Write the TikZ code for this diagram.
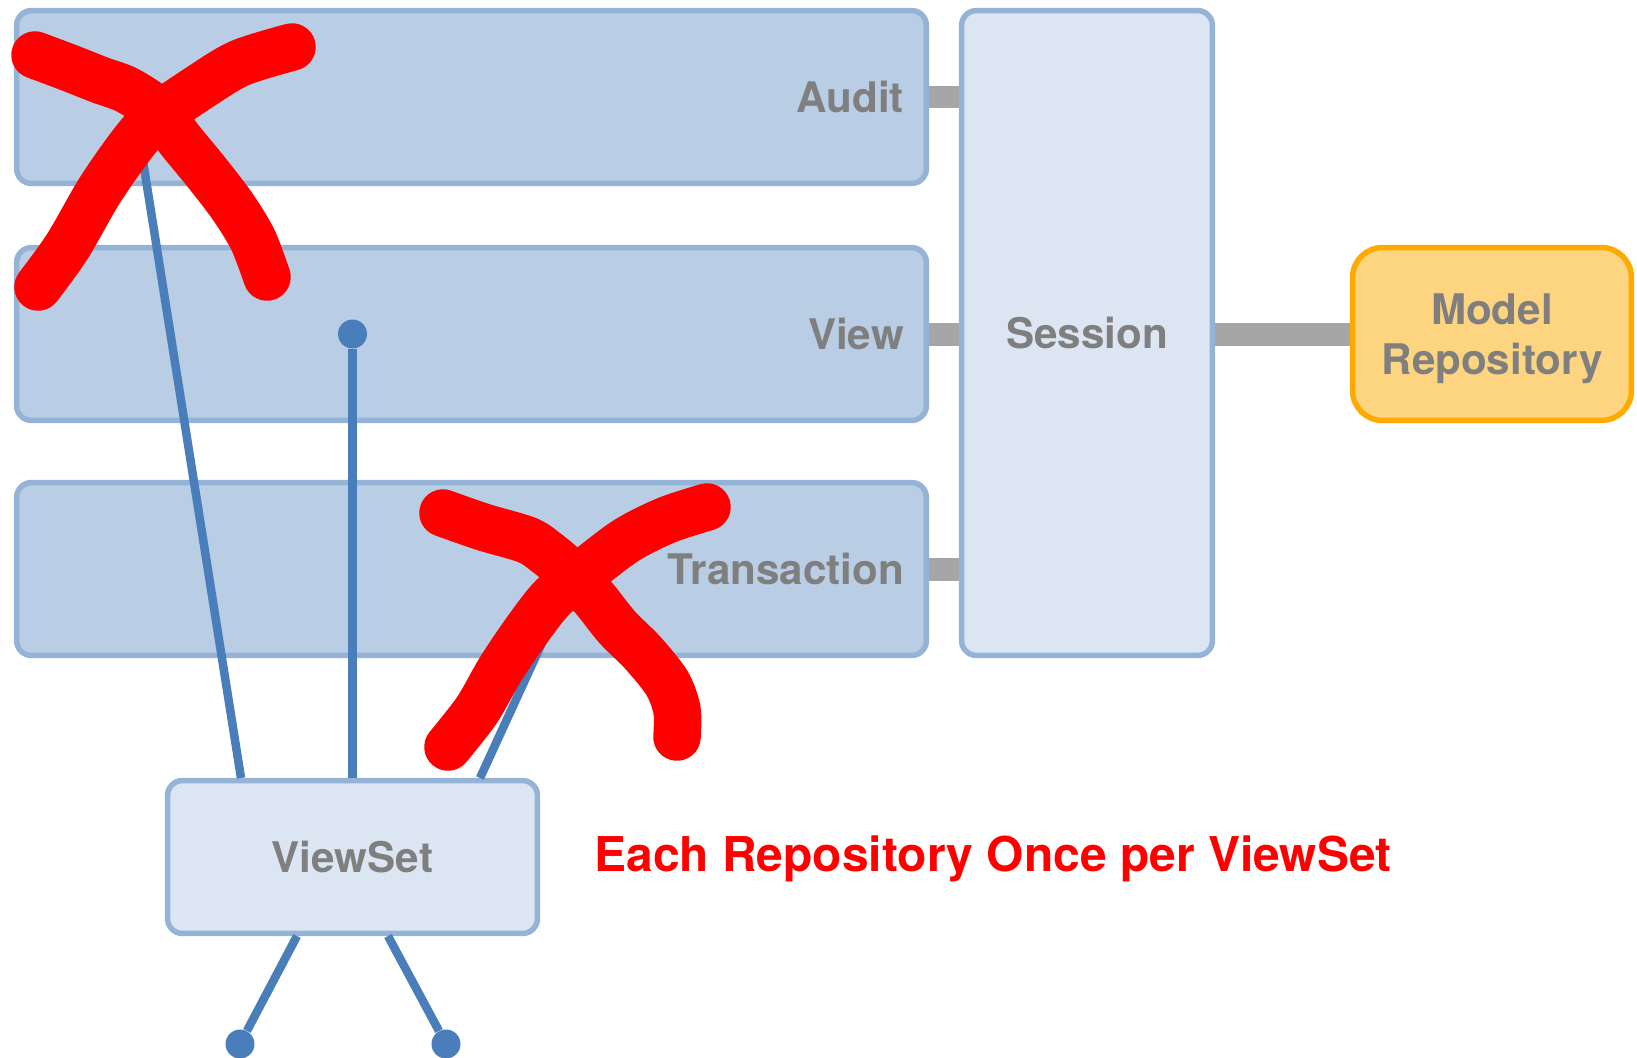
\documentclass[tikz,border=0pt]{standalone}
\usepackage{fontspec}
\setmainfont{TeX Gyre Heros}
\usepackage{xcolor}
\usetikzlibrary{backgrounds}
\definecolor{layerfill}{HTML}{B9CDE5}
\definecolor{panefill}{HTML}{DCE6F2}
\definecolor{edgeblue}{HTML}{95B3D7}
\definecolor{wireblue}{HTML}{4A7EBB}
\definecolor{repofill}{HTML}{FDD581}
\definecolor{repoedge}{HTML}{FFAA00}
\definecolor{linkgray}{HTML}{A6A6A6}
\definecolor{labelgray}{HTML}{7F7F7F}

\begin{document}
\begin{tikzpicture}[x=.02cm,y=-.02cm,
		every node/.style={font=\fontsize{24}{28.5}\selectfont\bfseries,text=labelgray},
		layer/.style={draw=edgeblue,fill=layerfill,line width=.11cm,rounded corners=.3cm,
			text width=17.3cm,inner xsep=.45cm,minimum height=3.46cm,align=right},
		pane/.style={draw=edgeblue,fill=panefill,line width=.11cm,rounded corners=.3cm},
		repo/.style={draw=repoedge,fill=repofill,line width=.11cm,rounded corners=.6cm,
			minimum width=5.58cm,minimum height=3.46cm,align=center,text depth=0pt},
		link/.style={draw=linkgray,line width=.46cm},
		wire/.style={draw=wireblue,line width=.17cm},
		dot/.style={circle,fill=wireblue,inner sep=0,minimum size=.58cm},
		scribble/.style={draw=red,line width=.95cm,line cap=round,line join=round},
	]
		\useasboundingbox (0,0) rectangle (1637,1058);
		\node[layer] (audit) at (471.5,97) {Audit};
		\node[layer] (view) at (471.5,334) {View};
		\node[layer] (transaction) at (471.5,569) {Transaction};
		\node[pane,minimum width=5.02cm,minimum height=12.9cm] (session) at (1087,333) {Session};
		\node[repo] (model) at (1492,334) {Model\\Repository};
		\node[pane,minimum width=7.4cm,minimum height=3.06cm] (viewset) at (352.5,857) {ViewSet};
		\node[text=red,font=\fontsize{27.3}{32}\selectfont\bfseries] (note) at (993,859) {Each Repository Once per ViewSet};
		\begin{pgfonlayer}{background}
			\draw[link] (audit.east) -- (audit.east -| session.west);
			\draw[link] (view.east) -- (view.east -| session.west);
			\draw[link] (transaction.east) -- (transaction.east -| session.west);
			\draw[link] (session.east |- model.west) -- (model.west);
		\end{pgfonlayer}
		\node[dot] (auditdot) at (133,98) {};
		\node[dot] (viewdot) at (352.5,334) {};
		\node[dot] (transactiondot) at (576,569) {};
		\node[dot] (leftdot) at (240,1044) {};
		\node[dot] (rightdot) at (446,1044) {};
		\coordinate (vs1) at (241,778);
		\coordinate (vs3) at (480,778);
		\coordinate (vsl) at (297,936);
		\coordinate (vsr) at (388,936);
		\draw[wire] (auditdot) -- (vs1);
		\draw[wire] (viewdot) -- (viewdot |- viewset.north);
		\draw[wire] (transactiondot) -- (vs3);
		\draw[wire] (vsl) -- (leftdot);
		\draw[wire] (vsr) -- (rightdot);
		\draw[scribble] plot[smooth] coordinates {(35,55) (67,67) (100,80) (127,90) (157,110) (180,140) (207,173) (233,207) (253,240) (267,277)};
		\draw[scribble] plot[smooth] coordinates {(38,287) (67,247) (100,190) (133,143) (157,117) (200,87) (240,63) (292,47)};
		\draw[scribble] plot[smooth] coordinates {(443,513) (483,527) (527,540) (547,553) (567,570) (593,597) (617,627) (643,653) (667,683) (677,710) (677,737)};
		\draw[scribble] plot[smooth] coordinates {(448,747) (477,710) (500,670) (527,630) (553,597) (587,570) (627,540) (667,520) (707,507)};
	\end{tikzpicture}
\end{document}
